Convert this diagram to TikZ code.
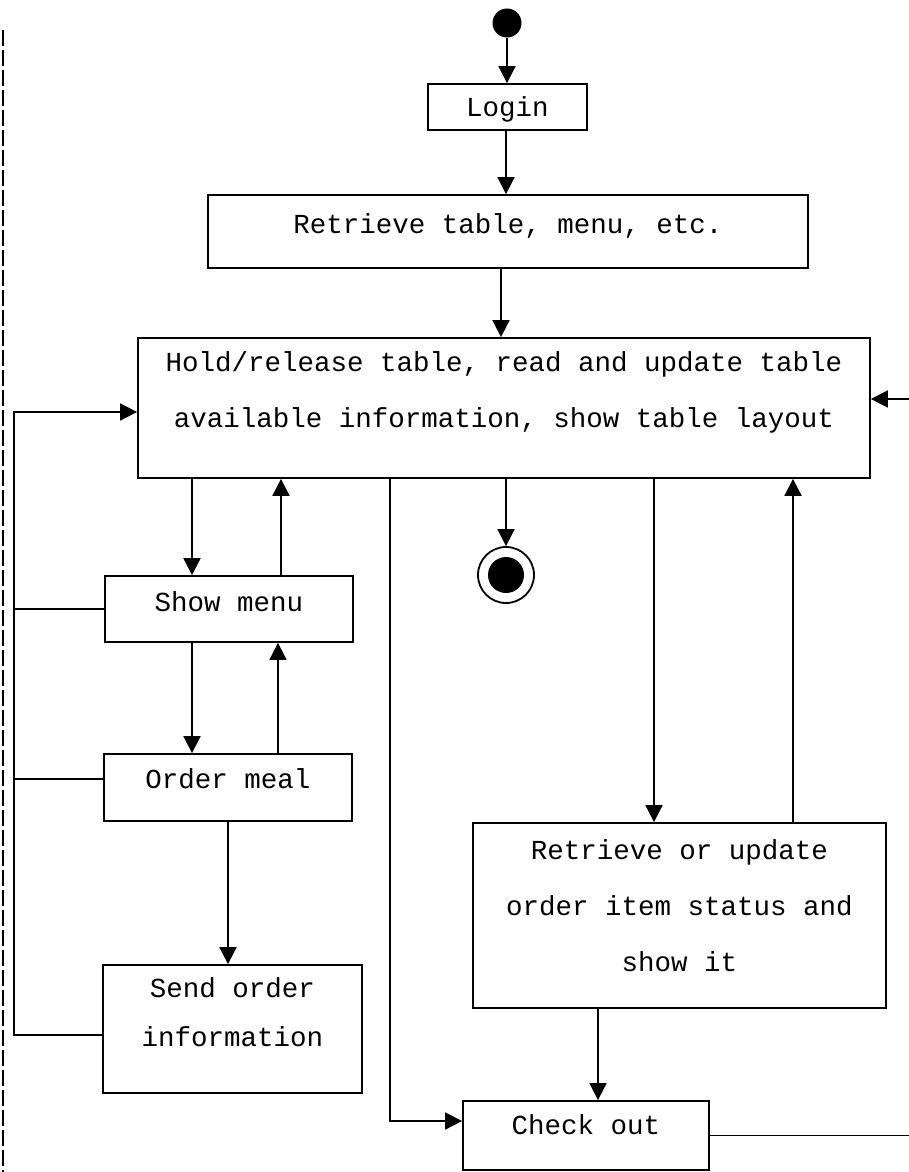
\documentclass[tikz,border=0pt]{standalone}
\usepackage{fontspec}
\setmainfont{Liberation Mono}
\usetikzlibrary{arrows.meta}
\begin{document}
\begin{tikzpicture}[x=1pt,y=-1pt,
  box/.style={draw,line width=1.8pt,rectangle,inner sep=0pt},
  lbl/.style={font=\fontsize{27.5}{55}\selectfont,inner sep=0pt,align=center},
  flow/.style={line width=1.8pt,-{Triangle[length=17pt,width=17pt]}},
  link/.style={line width=1.8pt}]
\useasboundingbox (0,0) rectangle (909,1172);
% scan edge
\draw[line width=1.2pt,dash pattern=on 16pt off 4pt] (3,30) -- (3,1172);
% initial and final
\node[circle,fill=black,inner sep=0pt,minimum size=29pt] (init) at (507,23) {};
\node[circle,draw,line width=1.8pt,inner sep=0pt,minimum size=56pt] (final) at (506,575) {};
\node[circle,fill=black,inner sep=0pt,minimum size=36pt] (finaldot) at (506,575) {};
% boxes
\node[box,minimum width=159pt,minimum height=46pt] (login) at (507.5,107) {};
\node[lbl] (loginT) at (507.5,109) {Login};
\node[box,minimum width=600pt,minimum height=73pt] (retr) at (508,231.5) {};
\node[lbl] (retrT) at (508,226) {Retrieve table, menu, etc.};
\node[box,minimum width=732pt,minimum height=140pt] (hold) at (504,408) {};
\node[lbl,font=\fontsize{27.5}{56}\selectfont] (holdT) at (504,392) {Hold/release table, read and update table\\available information, show table layout};
\node[box,minimum width=248pt,minimum height=66pt] (menu) at (229,609) {};
\node[lbl] (menuT) at (229,602) {Show menu};
\node[box,minimum width=248pt,minimum height=67pt] (order) at (228,787.5) {};
\node[lbl] (orderT) at (228,779) {Order meal};
\node[box,minimum width=259pt,minimum height=128pt] (send) at (232.5,1029) {};
\node[lbl,font=\fontsize{27.5}{49}\selectfont] (sendT) at (232.5,1012) {Send order\\information};
\node[box,minimum width=413pt,minimum height=185pt] (upd) at (679.5,915.5) {};
\node[lbl,font=\fontsize{27.5}{56}\selectfont] (updT) at (679.5,906) {Retrieve or update\\order item status and\\show it};
\node[box,minimum width=246pt,minimum height=69pt] (chk) at (586,1135.5) {};
\node[lbl] (chkT) at (586,1125) {Check out};
% edge coordinates
\coordinate (lx) at (14,0);
\coordinate (re1) at (909,1135);
\coordinate (re2) at (909,399);
% connectors
\draw[flow] (init.south) -- (init.south |- login.north);
\draw[flow] ([xshift=-1.5pt]login.south) -- ([xshift=-1.5pt]login.south |- retr.north);
\draw[flow] ([xshift=-7pt]retr.south) -- ([xshift=-7pt]retr.south |- hold.north);
\draw[flow] ([xshift=-37pt]menu.north |- hold.south) -- ([xshift=-37pt]menu.north);
\draw[flow] ([xshift=52pt]menu.north) -- ([xshift=52pt]menu.north |- hold.south);
\draw[flow] ([xshift=-37pt]menu.south) -- ([xshift=-37pt]menu.south |- order.north);
\draw[flow] ([xshift=50pt]order.north) -- ([xshift=50pt]order.north |- menu.south);
\draw[flow] (order.south) -- (order.south |- send.north);
\draw[flow] (final.north |- hold.south) -- (final.north);
\draw[flow] ([xshift=-25.5pt]upd.north |- hold.south) -- ([xshift=-25.5pt]upd.north);
\draw[flow] ([xshift=113.5pt]upd.north) -- ([xshift=113.5pt]upd.north |- hold.south);
\draw[flow] ([xshift=12pt]chk.north |- upd.south) -- ([xshift=12pt]chk.north);
\draw[flow] ([xshift=-114pt]hold.south) |- ([yshift=14.5pt]chk.west);
\draw[link] (menu.west) -- (menu.west -| lx);
\draw[link] ([yshift=8.5pt]order.west) -- ([yshift=8.5pt]order.west -| lx);
\draw[flow] ([yshift=-6pt]send.west) -- ([yshift=-6pt]send.west -| lx) |- ([yshift=-4pt]hold.west);
\draw[link] (chk.east) -- (chk.east -| re1);
\draw[flow] (re2) -- (re2 -| hold.east);
\end{tikzpicture}
\end{document}
